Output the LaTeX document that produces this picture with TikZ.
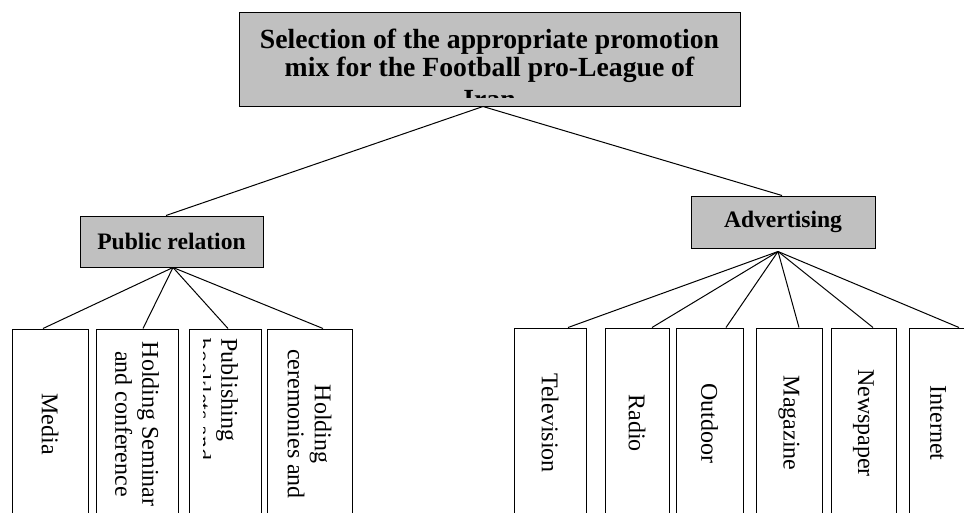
\documentclass[tikz,border=0pt]{standalone}
\usepackage{fontspec}
\setmainfont{Liberation Serif}
\definecolor{boxgray}{HTML}{C0C0C0}

\begin{document}
\begin{tikzpicture}[x=1pt, y=-1pt, line width=1pt,
    head/.style={draw, fill=boxgray, inner sep=0pt, font=\bfseries\fontsize{23.6}{26}\selectfont},
    leaf/.style={draw, rotate=-90, minimum width=190pt, inner sep=0pt, align=center, font=\fontsize{24}{27}\selectfont},
    cliptext/.style={inner sep=0pt, rotate=-90, align=left, font=\fontsize{24}{27}\selectfont}]
  \useasboundingbox (0,0) rectangle (964,512);
  \clip (0,0) rectangle (964,512);

  % top box, last line cut by the box
  \node[head, minimum width=501pt, minimum height=94pt] (goal) at (489.5,59) {};
  \begin{scope}
    \clip (239,12) rectangle (740,97);
    \node[inner sep=0pt, align=center, font=\bfseries\fontsize{27.7}{28}\selectfont, anchor=north] (goaltxt) at (489.5,28.5)
      {Selection of the appropriate promotion\\mix for the Football pro-League of\\[4pt]Iran};
  \end{scope}

  \node[head, minimum width=183pt, minimum height=51pt] (pr) at (171.5,241.5) {Public relation};
  \node[head, minimum width=184pt, minimum height=52pt] (adv) at (783,222) {Advertising};

  % public relation tools
  \node[leaf, minimum height=76pt] (media) at (50,424) {Media};
  \node[leaf, minimum height=82pt] (seminar) at (137,424) {Holding Seminar\\and conference};
  \node[leaf, minimum height=72pt] (publish) at (225,424) {};
  \begin{scope}
    \clip (203,329) rectangle (261,512);
    \node[cliptext, anchor=north west] (publishtxt) at (238.5,338) {Publishing\\booklets and};
  \end{scope}
  \node[leaf, minimum height=85pt] (ceremony) at (309.5,424) {Holding\\ceremonies and};

  % advertising media
  \node[leaf, minimum height=72pt] (tv) at (550,423) {Television};
  \node[leaf, minimum height=64pt] (radio) at (637,423) {Radio};
  \node[leaf, minimum height=67pt] (outdoor) at (709.5,423) {Outdoor};
  \node[leaf, minimum height=66pt] (magazine) at (789,423) {Magazine};
  \node[leaf, minimum height=65pt] (newspaper) at (863.5,423) {Newspaper};
  \node[leaf, minimum height=58pt] (internet) at (938,423) {Internet};

  \draw ([xshift=-6.5pt]goal.south) -- ([xshift=-5.5pt]pr.north);
  \draw ([xshift=-6.5pt]goal.south) -- ([xshift=-1pt]adv.north);
  \foreach \leaf/\dx in {media/-7, seminar/6, publish/3, ceremony/13.5}
    \draw ([xshift=1.5pt]pr.south) -- ([xshift=\dx pt]\leaf.west);
  \foreach \leaf/\dx in {tv/18, radio/15, outdoor/16.5, magazine/10, newspaper/9.5, internet/21}
    \draw ([xshift=-5pt,yshift=-3pt]adv.south) -- ([xshift=\dx pt]\leaf.west);
\end{tikzpicture}
\end{document}
